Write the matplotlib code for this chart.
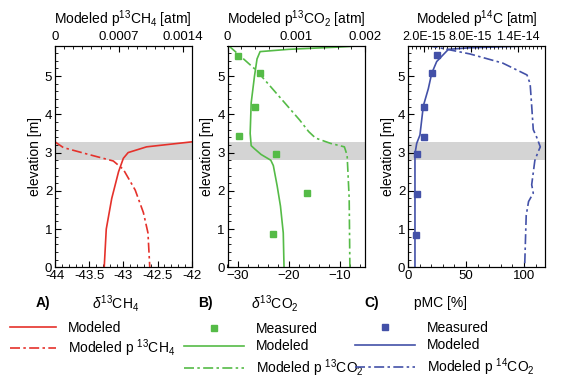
import numpy as np
import matplotlib
matplotlib.use('Agg')
import matplotlib.pyplot as plt
from matplotlib.ticker import MultipleLocator, FixedLocator, FuncFormatter
from matplotlib.lines import Line2D

plt.rcParams['font.family'] = ['Liberation Sans', 'DejaVu Sans']
plt.rcParams['mathtext.fontset'] = 'custom'
plt.rcParams['mathtext.rm'] = 'Liberation Sans'
plt.rcParams['mathtext.it'] = 'Liberation Sans:italic'
plt.rcParams['mathtext.bf'] = 'Liberation Sans:bold'

# A) d13CH4
elev_a = [0, 1.0, 1.8, 2.5, 2.85, 3.0, 3.15, 3.28]
d13ch4 = [-43.28, -43.25, -43.17, -43.07, -43.0, -42.93, -42.66, -42.0]
elev_a_p = [3.28, 3.13, 2.95, 2.78, 2.56, 2.02, 1.43, 0.9, 0]
p13ch4 = [0, 0.000092, 0.00037, 0.00064, 0.00075, 0.00088, 0.00097, 0.00102, 0.00104]

# B) d13CO2
elev_b = [0, 0.9, 1.6, 2.13, 2.66, 2.8, 2.95, 3.1, 3.18, 3.5, 4.3, 5.0, 5.45, 5.64, 5.7, 5.76, 5.8]
d13co2 = [-20.9, -21.05, -21.6, -22.25, -23.0, -23.5, -25.4, -26.7, -27.35, -27.55, -27.35, -26.7, -26.2, -25.6, -20.0, -10.0, -5.0]
elev_b_p = [5.79, 5.15, 4.45, 3.85, 3.55, 3.38, 3.24, 3.15, 2.93, 1.8, 0]
p13co2 = [0.00002, 0.00042, 0.00076, 0.00105, 0.00118, 0.00128, 0.0015, 0.0017, 0.00174, 0.00177, 0.00178]
elev_b_meas = [5.53, 5.09, 4.19, 3.43, 2.97, 1.93, 0.87]
d13co2_meas = [-30.0, -25.7, -26.6, -29.7, -22.5, -16.4, -23.0]

# C) pMC
elev_c = [0, 2.97, 3.24, 3.46, 4.22, 4.67, 5.07, 5.38, 5.7, 5.74, 5.8]
pmc = [6.0, 6.0, 7.5, 10.3, 13.2, 17.5, 20.4, 24.7, 34.8, 53.0, 117.0]
elev_c_p = [5.8, 5.72, 5.58, 5.34, 5.03, 4.8, 4.22, 3.6, 3.42, 3.15, 3.01, 2.79, 2.16, 1.94, 1.72, 1.36, 0]
p14c = [2.5e-15, 4.5e-15, 7.9e-15, 12.1e-15, 15.2e-15, 15.6e-15, 15.8e-15, 16.0e-15, 16.4e-15,
        16.9e-15, 16.6e-15, 16.2e-15, 15.8e-15, 16.0e-15, 15.4e-15, 15.1e-15, 14.9e-15]
elev_c_meas = [5.55, 5.09, 4.18, 3.42, 2.97, 1.91, 0.84]
pmc_meas = [24.7, 20.4, 14.1, 14.1, 7.5, 7.5, 6.9]

band = (2.8, 3.27)

red = '#e5312b'
green = '#55bb47'
blue = '#4351a8'
dashdot = (0, (6, 2, 1.5, 2))

fig = plt.figure(figsize=(5.62, 3.75), dpi=100)
W, H = 562, 375
top_px, bot_px = 45.5, 267.3


def make_axes(left, right):
    ax = fig.add_axes([left / W, 1 - bot_px / H, (right - left) / W, (bot_px - top_px) / H])
    ax.set_ylim(0, 5.8)
    ax.yaxis.set_major_locator(MultipleLocator(1))
    ax.yaxis.set_minor_locator(MultipleLocator(0.2))
    ax.axhspan(band[0], band[1], color='#d4d4d4', lw=0, zorder=0)
    ax.set_ylabel('elevation [m]', fontsize=10, labelpad=2)
    ax.tick_params(which='both', direction='in', labelsize=9.5, top=False, right=False, pad=2)
    ax.tick_params(which='major', length=4)
    ax.tick_params(which='minor', length=2)
    tw = ax.twiny()
    tw.tick_params(which='both', direction='in', labelsize=9.5, pad=2)
    tw.tick_params(which='major', length=4)
    tw.tick_params(which='minor', length=2)
    return ax, tw


# panel A
axa, twa = make_axes(55, 191.7)
axa.plot(d13ch4, elev_a, color=red, lw=1.2)
twa.plot(p13ch4, elev_a_p, color=red, lw=1.2, ls=dashdot)
axa.set_xlim(-44, -42)
axa.xaxis.set_major_locator(FixedLocator([-44, -43.5, -43, -42.5, -42]))
axa.xaxis.set_major_formatter(FuncFormatter(lambda v, p: '%g' % v))
axa.xaxis.set_minor_locator(MultipleLocator(0.1))
twa.set_xlim(0, 0.0015)
twa.xaxis.set_major_locator(FixedLocator([0, 0.0007, 0.0014]))
twa.xaxis.set_major_formatter(FuncFormatter(lambda v, p: '%g' % v))
twa.xaxis.set_minor_locator(MultipleLocator(0.0001))
twa.set_xlabel(r'Modeled p$^{13}$CH$_4$ [atm]', fontsize=10, labelpad=5)

# panel B
axb, twb = make_axes(227.5, 365)
axb.plot(d13co2, elev_b, color=green, lw=1.2)
axb.plot(d13co2_meas, elev_b_meas, ls='none', marker='s', ms=4.5, color=green)
twb.plot(p13co2, elev_b_p, color=green, lw=1.2, ls=dashdot)
axb.set_xlim(-32, -5)
axb.xaxis.set_major_locator(FixedLocator([-30, -20, -10]))
axb.xaxis.set_minor_locator(MultipleLocator(2))
twb.set_xlim(0, 0.002)
twb.xaxis.set_major_locator(FixedLocator([0, 0.001, 0.002]))
twb.xaxis.set_major_formatter(FuncFormatter(lambda v, p: '%g' % v))
twb.xaxis.set_minor_locator(MultipleLocator(0.0002))
twb.set_xlabel(r'Modeled p$^{13}$CO$_2$ [atm]', fontsize=10, labelpad=5)

# panel C
axc, twc = make_axes(408, 545)
axc.plot(pmc, elev_c, color=blue, lw=1.2)
axc.plot(pmc_meas, elev_c_meas, ls='none', marker='s', ms=4.5, color=blue)
twc.plot(p14c, elev_c_p, color=blue, lw=1.2, ls=dashdot)
axc.set_xlim(0, 118)
axc.xaxis.set_major_locator(FixedLocator([0, 50, 100]))
axc.xaxis.set_minor_locator(MultipleLocator(10))
twc.set_xlim(0, 1.75e-14)
twc.xaxis.set_major_locator(FixedLocator([2e-15, 8e-15, 1.4e-14]))
twc.xaxis.set_major_formatter(FuncFormatter(lambda v, p: ('%.1E' % v).replace('E-0', 'E-')))
twc.xaxis.set_minor_locator(MultipleLocator(5e-16))
twc.tick_params(labelsize=9)
twc.set_xlabel(r'Modeled p$^{14}$C [atm]', fontsize=10, labelpad=5)

# panel letters and bottom labels
y_lab = 1 - 303 / H
fig.text(43 / W, y_lab, 'A)', fontsize=10, fontweight='bold', ha='center', va='center')
fig.text(116 / W, y_lab, r'$\delta^{13}$CH$_4$', fontsize=10, ha='center', va='center')
fig.text(205 / W, y_lab, 'B)', fontsize=10, fontweight='bold', ha='center', va='center')
fig.text(275 / W, y_lab, r'$\delta^{13}$CO$_2$', fontsize=10, ha='center', va='center')
fig.text(372 / W, y_lab, 'C)', fontsize=10, fontweight='bold', ha='center', va='center')
fig.text(440 / W, y_lab, 'pMC [%]', fontsize=10, ha='center', va='center')

# legends
leg_kw = dict(frameon=False, fontsize=10, borderpad=0, borderaxespad=0, handlelength=3.3,
              handletextpad=0.9, labelspacing=0.25, loc='upper left')

h_a = [Line2D([], [], color=red, lw=1.2), Line2D([], [], color=red, lw=1.2, ls=dashdot)]
fig.legend(h_a, ['Modeled', r'Modeled p $^{13}$CH$_4$'], bbox_to_anchor=(10 / W, 1 - 321 / H),
           **dict(leg_kw, labelspacing=0.15))

h_b = [Line2D([], [], color=green, ls='none', marker='s', ms=4.5),
       Line2D([], [], color=green, lw=1.2), Line2D([], [], color=green, lw=1.2, ls=dashdot)]
fig.legend(h_b, ['Measured', 'Modeled', r'Modeled p $^{13}$CO$_2$'],
           bbox_to_anchor=(184 / W, 1 - 322 / H), **dict(leg_kw, handlelength=4.3))

h_c = [Line2D([], [], color=blue, ls='none', marker='s', ms=4.5),
       Line2D([], [], color=blue, lw=1.2), Line2D([], [], color=blue, lw=1.2, ls=dashdot)]
fig.legend(h_c, ['Measured', 'Modeled', r'Modeled p $^{14}$CO$_2$'],
           bbox_to_anchor=(355 / W, 1 - 321 / H), **dict(leg_kw, handlelength=4.3))

fig.savefig('out.png', dpi=100)
